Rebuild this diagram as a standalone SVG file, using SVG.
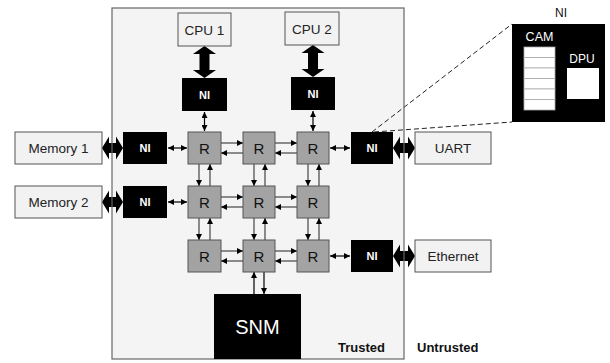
<svg xmlns="http://www.w3.org/2000/svg" width="610" height="363" viewBox="0 0 610 363">
<style>
text{font-family:"Liberation Sans",Arial,sans-serif;}
.box{fill:#f2f2f2;stroke:#555;stroke-width:1;}
.lbl{font-size:13.5px;fill:#222;text-anchor:middle;}
.ni{fill:#000;}
.nit{font-size:11px;font-weight:bold;fill:#fff;text-anchor:middle;}
.r{fill:#a3a3a3;stroke:#555;stroke-width:1;}
.rt{font-size:15px;fill:#111;text-anchor:middle;}
.ln{stroke:#444;stroke-width:1.2;fill:none;}
.lnd{stroke:#000;stroke-width:1.2;fill:none;}
.thick{fill:#000;}
.dash{stroke:#222;stroke-width:1;stroke-dasharray:5,3;fill:none;}
.bold{font-size:13px;font-weight:bold;fill:#111;}
</style>
<defs>
<marker id="ah" viewBox="0 0 10 10" refX="10" refY="5" markerWidth="6" markerHeight="6" markerUnits="userSpaceOnUse" orient="auto-start-reverse">
<path d="M0,0 L10,5 L0,10 z" fill="#000"/>
</marker>
</defs>
<rect width="610" height="363" fill="#fff"/>
<rect id="trusted-bg" x="112" y="8" width="292" height="351" fill="#f4f4f4"/>

<g id="connectors">
<polygon class="thick" points="204.5,46 216,54 209.5,54 209.5,70 216,70 204.5,78 193,70 199.5,70 199.5,54 193,54"/>
<polygon class="thick" points="313,45 324.5,53 318,53 318,69 324.5,69 313,77 301.5,69 308,69 308,53 301.5,53"/>
<polygon class="thick" points="102,148 109,136.5 109,143 116,143 116,136.5 123,148 116,159.5 116,153 109,153 109,159.5"/>
<polygon class="thick" points="102,202 109,190.5 109,197 116,197 116,190.5 123,202 116,213.5 116,207 109,207 109,213.5"/>
<polygon class="thick" points="393,148 400,136.5 400,143 408,143 408,136.5 415,148 408,159.5 408,153 400,153 400,159.5"/>
<polygon class="thick" points="393,256 400,244.5 400,251 408,251 408,244.5 415,256 408,267.5 408,261 400,261 400,267.5"/>
<line class="lnd" x1="168" y1="148" x2="187" y2="148" marker-start="url(#ah)" marker-end="url(#ah)"/>
<line class="lnd" x1="168" y1="202" x2="187" y2="202" marker-start="url(#ah)" marker-end="url(#ah)"/>
<line class="lnd" x1="330" y1="148" x2="350" y2="148" marker-start="url(#ah)" marker-end="url(#ah)"/>
<line class="lnd" x1="330" y1="256" x2="350" y2="256" marker-start="url(#ah)" marker-end="url(#ah)"/>
<line class="lnd" x1="204.5" y1="112" x2="204.5" y2="131" marker-start="url(#ah)" marker-end="url(#ah)"/>
<line class="lnd" x1="313" y1="111" x2="313" y2="131" marker-start="url(#ah)" marker-end="url(#ah)"/>
<line class="ln" x1="221" y1="143" x2="243" y2="143" marker-end="url(#ah)"/>
<line class="ln" x1="243" y1="153" x2="221" y2="153" marker-end="url(#ah)"/>
<line class="ln" x1="275" y1="143" x2="297" y2="143" marker-end="url(#ah)"/>
<line class="ln" x1="297" y1="153" x2="275" y2="153" marker-end="url(#ah)"/>
<line class="ln" x1="221" y1="197" x2="243" y2="197" marker-end="url(#ah)"/>
<line class="ln" x1="243" y1="207" x2="221" y2="207" marker-end="url(#ah)"/>
<line class="ln" x1="275" y1="197" x2="297" y2="197" marker-end="url(#ah)"/>
<line class="ln" x1="297" y1="207" x2="275" y2="207" marker-end="url(#ah)"/>
<line class="ln" x1="221" y1="251" x2="243" y2="251" marker-end="url(#ah)"/>
<line class="ln" x1="243" y1="261" x2="221" y2="261" marker-end="url(#ah)"/>
<line class="ln" x1="275" y1="251" x2="297" y2="251" marker-end="url(#ah)"/>
<line class="ln" x1="297" y1="261" x2="275" y2="261" marker-end="url(#ah)"/>
<line class="ln" x1="199" y1="164" x2="199" y2="186" marker-end="url(#ah)"/>
<line class="ln" x1="210" y1="186" x2="210" y2="164" marker-end="url(#ah)"/>
<line class="ln" x1="254" y1="164" x2="254" y2="186" marker-end="url(#ah)"/>
<line class="ln" x1="265" y1="186" x2="265" y2="164" marker-end="url(#ah)"/>
<line class="ln" x1="308" y1="164" x2="308" y2="186" marker-end="url(#ah)"/>
<line class="ln" x1="319" y1="186" x2="319" y2="164" marker-end="url(#ah)"/>
<line class="ln" x1="199" y1="218" x2="199" y2="240" marker-end="url(#ah)"/>
<line class="ln" x1="210" y1="240" x2="210" y2="218" marker-end="url(#ah)"/>
<line class="ln" x1="254" y1="218" x2="254" y2="240" marker-end="url(#ah)"/>
<line class="ln" x1="265" y1="240" x2="265" y2="218" marker-end="url(#ah)"/>
<line class="ln" x1="308" y1="218" x2="308" y2="240" marker-end="url(#ah)"/>
<line class="ln" x1="319" y1="240" x2="319" y2="218" marker-end="url(#ah)"/>
<line class="lnd" x1="254" y1="294" x2="254" y2="272" marker-end="url(#ah)"/>
<line class="lnd" x1="264" y1="272" x2="264" y2="294" marker-end="url(#ah)"/>
<line class="dash" x1="372" y1="132" x2="512" y2="24"/>
<line class="dash" x1="374" y1="132" x2="512" y2="122"/>
</g>

<rect id="trusted-border" x="112" y="8" width="292" height="351" fill="none" stroke="#666" stroke-width="1.2"/>

<g id="cpu1"><rect class="box" x="178" y="13" width="53" height="33"/><text class="lbl" x="204.5" y="34.5">CPU 1</text></g>
<g id="cpu2"><rect class="box" x="285" y="12" width="54" height="33"/><text class="lbl" x="312" y="33.5">CPU 2</text></g>
<g id="mem1"><rect class="box" x="15" y="132" width="87" height="32"/><text class="lbl" x="58.5" y="153">Memory 1</text></g>
<g id="mem2"><rect class="box" x="15" y="186" width="87" height="32"/><text class="lbl" x="58.5" y="207">Memory 2</text></g>
<g id="uart"><rect class="box" x="415" y="132" width="76" height="32"/><text class="lbl" x="453" y="153">UART</text></g>
<g id="ethernet"><rect class="box" x="415" y="240" width="76" height="32"/><text class="lbl" x="453" y="261">Ethernet</text></g>

<g id="ni-cpu1"><rect class="ni" x="182" y="78" width="45" height="33"/><text class="nit" x="204.5" y="98.5">NI</text></g>
<g id="ni-cpu2"><rect class="ni" x="291" y="77" width="44" height="33"/><text class="nit" x="313" y="97.5">NI</text></g>
<g id="ni-mem1"><rect class="ni" x="123" y="132" width="44" height="32"/><text class="nit" x="145" y="152">NI</text></g>
<g id="ni-mem2"><rect class="ni" x="123" y="186" width="44" height="32"/><text class="nit" x="145" y="206">NI</text></g>
<g id="ni-uart"><rect class="ni" x="351" y="132" width="42" height="32"/><text class="nit" x="372" y="152">NI</text></g>
<g id="ni-eth"><rect class="ni" x="351" y="240" width="42" height="32"/><text class="nit" x="372" y="260">NI</text></g>

<g id="r11"><rect class="r" x="188" y="132" width="33" height="32"/><text class="rt" x="204.5" y="153.5">R</text></g>
<g id="r12"><rect class="r" x="243" y="132" width="32" height="32"/><text class="rt" x="259" y="153.5">R</text></g>
<g id="r13"><rect class="r" x="297" y="132" width="32" height="32"/><text class="rt" x="313" y="153.5">R</text></g>
<g id="r21"><rect class="r" x="188" y="186" width="33" height="32"/><text class="rt" x="204.5" y="207.5">R</text></g>
<g id="r22"><rect class="r" x="243" y="186" width="32" height="32"/><text class="rt" x="259" y="207.5">R</text></g>
<g id="r23"><rect class="r" x="297" y="186" width="32" height="32"/><text class="rt" x="313" y="207.5">R</text></g>
<g id="r31"><rect class="r" x="188" y="240" width="33" height="32"/><text class="rt" x="204.5" y="261.5">R</text></g>
<g id="r32"><rect class="r" x="243" y="240" width="32" height="32"/><text class="rt" x="259" y="261.5">R</text></g>
<g id="r33"><rect class="r" x="297" y="240" width="32" height="32"/><text class="rt" x="313" y="261.5">R</text></g>

<g id="snm"><rect x="214" y="294" width="87" height="65" fill="#000"/><text x="257.5" y="334" font-size="20" fill="#fff" text-anchor="middle">SNM</text></g>

<g id="ni-detail">
<text x="561" y="17" font-size="12" fill="#111" text-anchor="middle">NI</text>
<rect x="512" y="24" width="93" height="98" fill="#000"/>
<text x="539.5" y="41" font-size="12.5" fill="#fff" text-anchor="middle">CAM</text>
<g fill="#fff" stroke="#aaa" stroke-width="0.8">
<rect x="524" y="47" width="31" height="10.5"/>
<rect x="524" y="57.5" width="31" height="10.5"/>
<rect x="524" y="68" width="31" height="10.5"/>
<rect x="524" y="78.5" width="31" height="10.5"/>
<rect x="524" y="89" width="31" height="10.5"/>
<rect x="524" y="99.5" width="31" height="10.5"/>
</g>
<text x="582" y="63" font-size="12" fill="#fff" text-anchor="middle">DPU</text>
<rect x="567" y="68" width="32" height="31" fill="#fff"/>
</g>

<text class="bold" x="338" y="352">Trusted</text>
<text class="bold" x="417" y="352">Untrusted</text>
</svg>
